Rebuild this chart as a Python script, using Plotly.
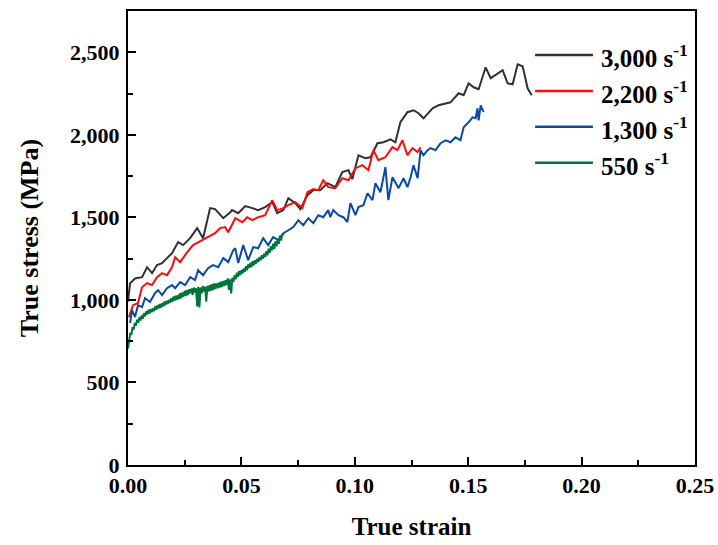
import plotly.graph_objects as go

# ---- data (true strain, true stress MPa) ----
black_x = [0.0000, 0.0009, 0.0031, 0.0062, 0.0084, 0.0106, 0.0128, 0.0150, 0.0172, 0.0194, 0.0221, 0.0243,
           0.0274, 0.0305, 0.0331, 0.0362, 0.0384, 0.0420, 0.0451, 0.0459, 0.0486, 0.0517, 0.0548, 0.0574,
           0.0605, 0.0636, 0.0658, 0.0685, 0.0707, 0.0738, 0.0760, 0.0791, 0.0817, 0.0848, 0.0879, 0.0914,
           0.0945, 0.0972, 0.0989, 0.1016, 0.1047, 0.1069, 0.1100, 0.1126, 0.1157, 0.1179, 0.1201, 0.1232,
           0.1259, 0.1281, 0.1303, 0.1343, 0.1369, 0.1400, 0.1422, 0.1458, 0.1480, 0.1502, 0.1524, 0.1546,
           0.1577, 0.1599, 0.1630, 0.1652, 0.1674, 0.1696, 0.1718, 0.1740, 0.1754, 0.1762, 0.1780]
black_y = [990, 1100, 1130, 1138, 1198, 1162, 1211, 1223, 1253, 1283, 1350, 1332,
           1374, 1435, 1374, 1556, 1550, 1495, 1531, 1544, 1525, 1568, 1556, 1544,
           1562, 1592, 1525, 1544, 1616, 1586, 1550, 1634, 1665, 1665, 1707, 1683,
           1774, 1786, 1731, 1876, 1858, 1864, 1949, 1955, 1973, 1955, 2076, 2137,
           2149, 2131, 2100, 2161, 2179, 2191, 2197, 2252, 2240, 2312, 2288, 2276,
           2409, 2343, 2373, 2391, 2312, 2306, 2427, 2415, 2330, 2282, 2240]

red_x = [0.0004, 0.0022, 0.0044, 0.0062, 0.0084, 0.0106, 0.0128, 0.0150, 0.0172, 0.0194, 0.0208, 0.0230,
         0.0261, 0.0287, 0.0327, 0.0353, 0.0384, 0.0406, 0.0428, 0.0442, 0.0473, 0.0504, 0.0526, 0.0548,
         0.0574, 0.0605, 0.0636, 0.0658, 0.0685, 0.0707, 0.0738, 0.0769, 0.0791, 0.0817, 0.0839, 0.0861,
         0.0883, 0.0914, 0.0945, 0.0972, 0.1003, 0.1034, 0.1060, 0.1082, 0.1104, 0.1135, 0.1166, 0.1188,
         0.1210, 0.1232, 0.1254, 0.1277, 0.1290]
red_y = [896, 968, 981, 1077, 1102, 1090, 1138, 1162, 1150, 1198, 1259, 1229,
         1289, 1332, 1362, 1380, 1404, 1435, 1441, 1410, 1495, 1471, 1501, 1483,
         1501, 1513, 1604, 1544, 1556, 1574, 1592, 1556, 1652, 1671, 1665, 1725,
         1683, 1677, 1737, 1725, 1798, 1816, 1786, 1907, 1846, 1864, 1925, 1907,
         1967, 1876, 1919, 1895, 1925]

blue_x = [0.0009, 0.0018, 0.0031, 0.0044, 0.0062, 0.0075, 0.0097, 0.0119, 0.0133, 0.0150, 0.0172, 0.0194,
          0.0208, 0.0230, 0.0252, 0.0274, 0.0296, 0.0309, 0.0331, 0.0353, 0.0375, 0.0398, 0.0420, 0.0442,
          0.0464, 0.0473, 0.0486, 0.0508, 0.0530, 0.0552, 0.0574, 0.0596, 0.0618, 0.0640, 0.0663, 0.0685,
          0.0707, 0.0729, 0.0751, 0.0773, 0.0795, 0.0817, 0.0839, 0.0861, 0.0883, 0.0892, 0.0905, 0.0928,
          0.0950, 0.0967, 0.0981, 0.1003, 0.1016, 0.1038, 0.1056, 0.1078, 0.1091, 0.1113, 0.1135, 0.1148,
          0.1166, 0.1179, 0.1193, 0.1215, 0.1232, 0.1246, 0.1259, 0.1277, 0.1290, 0.1303, 0.1321, 0.1334,
          0.1356, 0.1378, 0.1400, 0.1422, 0.1444, 0.1466, 0.1480, 0.1502, 0.1519, 0.1533, 0.1541, 0.1546,
          0.1555, 0.1568]
blue_y = [860, 938, 896, 968, 956, 1011, 987, 1041, 1059, 1029, 1071, 1090,
          1071, 1108, 1090, 1138, 1120, 1180, 1150, 1192, 1211, 1198, 1253, 1229,
          1301, 1313, 1223, 1332, 1241, 1320, 1313, 1374, 1332, 1380, 1362, 1404,
          1422, 1441, 1483, 1453, 1495, 1465, 1513, 1501, 1544, 1501, 1544, 1513,
          1501, 1471, 1586, 1513, 1562, 1574, 1646, 1604, 1707, 1652, 1804, 1604,
          1743, 1707, 1677, 1737, 1683, 1743, 1816, 1737, 1907, 1876, 1907, 1919,
          1907, 1949, 1967, 1955, 1985, 1967, 2046, 2076, 2106, 2100, 2161, 2088,
          2179, 2137]

green_x = [0.0000, 0.0005, 0.0010, 0.0015, 0.0020, 0.0025, 0.0030, 0.0035, 0.0040, 0.0045, 0.0050, 0.0055,
           0.0060, 0.0065, 0.0070, 0.0075, 0.0080, 0.0085, 0.0090, 0.0095, 0.0100, 0.0105, 0.0110, 0.0115,
           0.0120, 0.0125, 0.0130, 0.0135, 0.0140, 0.0145, 0.0150, 0.0155, 0.0160, 0.0165, 0.0170, 0.0175,
           0.0180, 0.0185, 0.0190, 0.0195, 0.0200, 0.0205, 0.0210, 0.0215, 0.0220, 0.0225, 0.0230, 0.0235,
           0.0240, 0.0245, 0.0250, 0.0255, 0.0260, 0.0265, 0.0270, 0.0275, 0.0280, 0.0285, 0.0290, 0.0295,
           0.0300, 0.0305, 0.0310, 0.0315, 0.0320, 0.0325, 0.0330, 0.0335, 0.0340, 0.0345, 0.0350, 0.0355,
           0.0360, 0.0365, 0.0370, 0.0375, 0.0380, 0.0385, 0.0390, 0.0395, 0.0400, 0.0405, 0.0410, 0.0415,
           0.0420, 0.0425, 0.0430, 0.0435, 0.0440, 0.0445, 0.0450, 0.0455, 0.0460, 0.0465, 0.0470, 0.0475,
           0.0480, 0.0485, 0.0490, 0.0495, 0.0500, 0.0505, 0.0510, 0.0515, 0.0520, 0.0525, 0.0530, 0.0535,
           0.0540, 0.0545, 0.0550, 0.0555, 0.0560, 0.0565, 0.0570, 0.0575, 0.0580, 0.0585, 0.0590, 0.0595,
           0.0600, 0.0605, 0.0610, 0.0615, 0.0620, 0.0625, 0.0630, 0.0635, 0.0640, 0.0645, 0.0650, 0.0655,
           0.0660, 0.0665, 0.0670, 0.0675, 0.0680, 0.0685]
green_y = [705, 760, 800, 790, 835, 820, 860, 845, 880, 862, 895, 875,
           905, 885, 920, 900, 930, 912, 940, 918, 945, 925, 950, 932,
           962, 940, 968, 948, 975, 952, 980, 960, 990, 968, 995, 975,
           1000, 982, 1010, 988, 1020, 995, 1025, 1000, 1030, 1005, 1040, 1010,
           1045, 1020, 1055, 1025, 1060, 1030, 1065, 1040, 1070, 1030, 1075, 1045,
           1070, 960, 1080, 955, 1075, 1040, 1085, 1050, 1080, 990, 1085, 1050,
           1090, 1055, 1095, 1060, 1100, 1065, 1100, 1070, 1105, 1075, 1110, 1080,
           1115, 1085, 1120, 1090, 1130, 1060, 1125, 1040, 1135, 1110, 1150, 1125,
           1165, 1140, 1175, 1150, 1180, 1160, 1190, 1170, 1205, 1180, 1215, 1195,
           1225, 1200, 1235, 1210, 1240, 1220, 1250, 1230, 1260, 1240, 1270, 1250,
           1280, 1260, 1295, 1270, 1310, 1285, 1325, 1300, 1340, 1310, 1355, 1325,
           1370, 1340, 1390, 1360, 1400, 1390]

series_names = ["3,000 s<sup>-1</sup>", "2,200 s<sup>-1</sup>", "1,300 s<sup>-1</sup>", "550 s<sup>-1</sup>"]
series_colors = ["#303030", "#ff0a0a", "#0a4aa6", "#00753a"]

x_ticks = [0.00, 0.05, 0.10, 0.15, 0.20, 0.25]
y_ticks = [0, 500, 1000, 1500, 2000, 2500]

FONT = "Liberation Serif"

fig = go.Figure()
for xs, ys, name, col in zip([black_x, red_x, blue_x, green_x],
                             [black_y, red_y, blue_y, green_y],
                             series_names, series_colors):
    fig.add_trace(go.Scatter(x=xs, y=ys, mode="lines", name=name,
                             line=dict(color=col, width=2), showlegend=False))

# legend drawn as sample lines + labels in paper coordinates (long sample lines as in the original)
leg_x0, leg_x1, leg_tx = 0.718, 0.820, 0.830
leg_y = [0.903, 0.824, 0.745, 0.666]
shapes = []
annotations = []
for name, col, yy in zip(series_names, series_colors, leg_y):
    shapes.append(dict(type="line", xref="paper", yref="paper", x0=leg_x0, x1=leg_x1, y0=yy, y1=yy,
                       line=dict(color=col, width=2.5)))
    annotations.append(dict(xref="paper", yref="paper", x=leg_tx, y=yy - 0.002, xanchor="left", yanchor="middle",
                            text="<b>" + name + "</b>", showarrow=False,
                            font=dict(family=FONT, size=25, color="black")))

axis_common = dict(
    showline=True, linecolor="black", linewidth=2, mirror=True,
    ticks="inside", ticklen=8, tickwidth=2, tickcolor="black",
    showgrid=False, zeroline=False, automargin=False,
    tickfont=dict(family=FONT, size=22, color="black", weight="bold"),
)

fig.update_xaxes(
    range=[0, 0.25], tickvals=x_ticks, tickformat=".2f", ticklabelstandoff=0,
    minor=dict(ticks="inside", ticklen=5, tickwidth=2, tickcolor="black", dtick=0.025, tick0=0),
    title=dict(text="<b>True strain</b>", font=dict(family=FONT, size=25, color="black"), standoff=20),
    **axis_common,
)
fig.update_yaxes(
    range=[0, 2750], tickvals=y_ticks, tickformat=",d", ticklabelstandoff=2,
    minor=dict(ticks="inside", ticklen=5, tickwidth=2, tickcolor="black", dtick=250, tick0=0),
    title=dict(text="<b>True stress (MPa)</b>", font=dict(family=FONT, size=26, color="black"), standoff=24),
    **axis_common,
)

fig.update_layout(
    width=718, height=545,
    margin=dict(l=128, r=23, t=11, b=80),
    paper_bgcolor="white", plot_bgcolor="white",
    separators=".,",
    shapes=shapes, annotations=annotations,
    showlegend=False,
)

fig.write_html("out.html")
